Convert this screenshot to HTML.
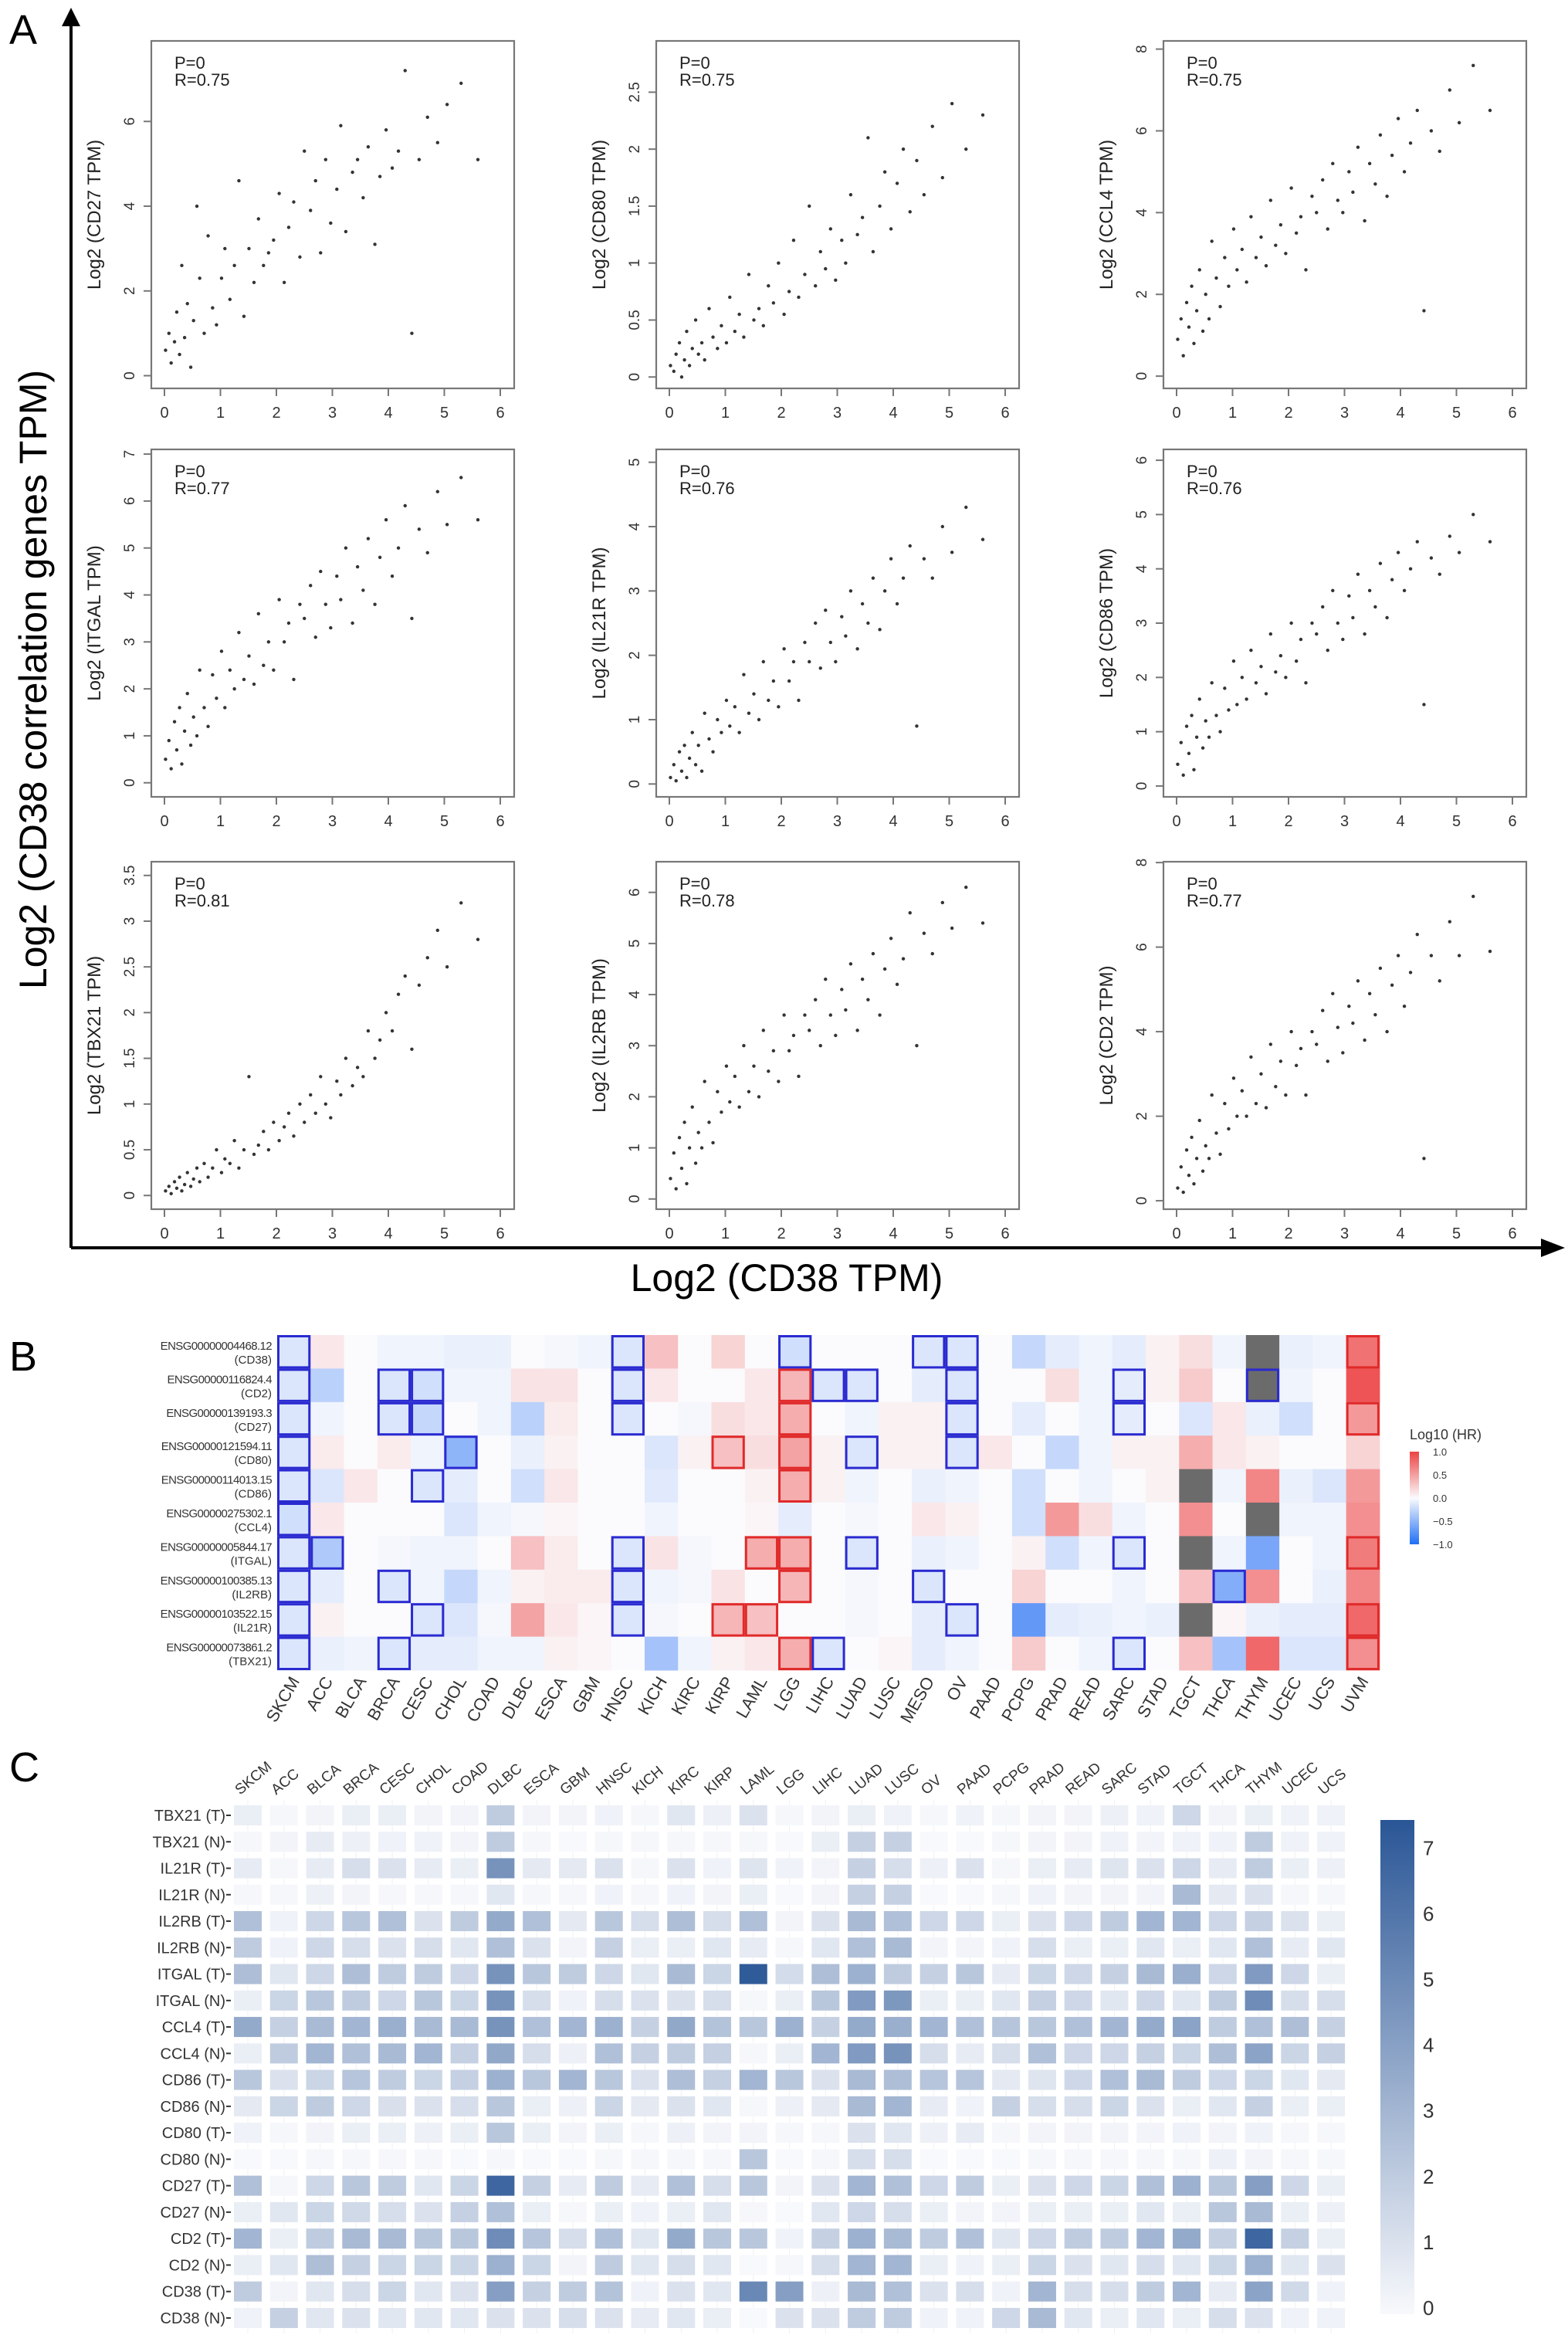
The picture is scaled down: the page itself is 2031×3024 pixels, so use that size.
<!DOCTYPE html>
<html><head><meta charset="utf-8"><style>
html,body{margin:0;padding:0;background:#fff;}
svg{display:block;font-family:"Liberation Sans",Arial,sans-serif;}
</style></head><body>
<svg id="fig" width="2031" height="3024" viewBox="0 0 2031 3024" xmlns="http://www.w3.org/2000/svg">
<rect width="2031" height="3024" fill="#fff"/>
<text x="12" y="57" font-size="54">A</text>
<text x="12" y="1775" font-size="54">B</text>
<text x="12" y="2307" font-size="54">C</text>
<g>
<line x1="92" y1="1616" x2="92" y2="30" stroke="#000" stroke-width="4"/>
<polygon points="80,34 104,34 92,10" fill="#000"/>
<line x1="92" y1="1616" x2="2000" y2="1616" stroke="#000" stroke-width="4"/>
<polygon points="1996,1604 1996,1628 2027,1616" fill="#000"/>
</g>
<text transform="translate(60,880) rotate(-90)" text-anchor="middle" font-size="50">Log2 (CD38 correlation genes TPM)</text>
<text x="1019" y="1672" text-anchor="middle" font-size="50">Log2 (CD38 TPM)</text>
<g id="panelA"></g>
<g id="panelB"></g>
<g id="panelC"></g>
</svg>
<script>
const NS="http://www.w3.org/2000/svg";
function mk(tag,attrs,parent,txt){const e=document.createElementNS(NS,tag);for(const k in attrs)e.setAttribute(k,attrs[k]);if(txt!==undefined)e.textContent=txt;parent.appendChild(e);return e;}

// ===== Panel A data =====
const cd38X=[0.02,0.08,0.12,0.18,0.22,0.27,0.31,0.36,0.41,0.47,0.52,0.58,0.63,0.71,0.78,0.86,0.93,1.02,1.08,1.17,1.25,1.33,1.42,1.51,1.6,1.68,1.77,1.86,1.95,2.05,2.14,2.22,2.31,2.42,2.5,2.61,2.7,2.79,2.88,2.97,3.08,3.15,3.24,3.36,3.45,3.55,3.64,3.76,3.85,3.96,4.07,4.18,4.3,4.42,4.55,4.7,4.88,5.05,5.3,5.6];
const yCD27=[0.6,1.0,0.3,0.8,1.5,0.5,2.6,0.9,1.7,0.2,1.3,4.0,2.3,1.0,3.3,1.6,1.2,2.3,3.0,1.8,2.6,4.6,1.4,3.0,2.2,3.7,2.6,2.9,3.2,4.3,2.2,3.5,4.1,2.8,5.3,3.9,4.6,2.9,5.1,3.6,4.4,5.9,3.4,4.8,5.1,4.2,5.4,3.1,4.7,5.8,4.9,5.3,7.2,1.0,5.1,6.1,5.5,6.4,6.9,5.1];
const yCD80=[0.1,0.05,0.2,0.3,0.0,0.15,0.4,0.1,0.25,0.5,0.2,0.3,0.15,0.6,0.35,0.25,0.45,0.3,0.7,0.4,0.55,0.35,0.9,0.5,0.6,0.45,0.8,0.65,1.0,0.55,0.75,1.2,0.7,0.9,1.5,0.8,1.1,0.95,1.3,0.85,1.2,1.0,1.6,1.25,1.4,2.1,1.1,1.5,1.8,1.3,1.7,2.0,1.45,1.9,1.6,2.2,1.75,2.4,2.0,2.3];
const yCCL4=[0.9,1.4,0.5,1.8,1.2,2.2,0.8,1.6,2.6,1.1,2.0,1.4,3.3,2.4,1.7,2.9,2.2,3.6,2.6,3.1,2.3,3.9,2.9,3.4,2.7,4.3,3.2,3.7,3.0,4.6,3.5,3.9,2.6,4.4,4.0,4.8,3.6,5.2,4.3,4.0,5.0,4.5,5.6,3.8,5.2,4.7,5.9,4.4,5.4,6.3,5.0,5.7,6.5,1.6,6.0,5.5,7.0,6.2,7.6,6.5];
const yITGAL=[0.5,0.9,0.3,1.3,0.7,1.6,0.4,1.1,1.9,0.8,1.4,1.0,2.4,1.6,1.2,2.3,1.8,2.8,1.6,2.4,2.0,3.2,2.2,2.7,2.1,3.6,2.5,3.0,2.4,3.9,3.0,3.4,2.2,3.8,3.5,4.2,3.1,4.5,3.8,3.3,4.4,3.9,5.0,3.4,4.6,4.1,5.2,3.8,4.8,5.6,4.4,5.0,5.9,3.5,5.4,4.9,6.2,5.5,6.5,5.6];
const yIL21R=[0.1,0.3,0.05,0.5,0.2,0.6,0.1,0.4,0.8,0.3,0.6,0.2,1.1,0.7,0.5,1.0,0.8,1.3,0.9,1.2,0.8,1.7,1.1,1.4,1.0,1.9,1.3,1.6,1.2,2.1,1.6,1.9,1.3,2.2,1.9,2.5,1.8,2.7,2.2,1.9,2.6,2.3,3.0,2.1,2.8,2.5,3.2,2.4,3.0,3.5,2.8,3.2,3.7,0.9,3.5,3.2,4.0,3.6,4.3,3.8];
const yCD86=[0.4,0.8,0.2,1.1,0.6,1.3,0.3,0.9,1.6,0.7,1.2,0.9,1.9,1.3,1.0,1.8,1.4,2.3,1.5,2.0,1.6,2.5,1.9,2.2,1.7,2.8,2.1,2.4,2.0,3.0,2.3,2.7,1.9,3.0,2.8,3.3,2.5,3.6,3.0,2.7,3.5,3.1,3.9,2.8,3.6,3.3,4.1,3.1,3.8,4.3,3.6,4.0,4.5,1.5,4.2,3.9,4.6,4.3,5.0,4.5];
const yTBX21=[0.05,0.1,0.02,0.15,0.08,0.2,0.05,0.12,0.25,0.1,0.18,0.3,0.15,0.35,0.2,0.3,0.5,0.25,0.4,0.35,0.6,0.3,0.5,1.3,0.45,0.55,0.7,0.5,0.8,0.6,0.75,0.9,0.65,1.0,0.8,1.1,0.9,1.3,1.0,0.85,1.25,1.1,1.5,1.2,1.4,1.3,1.8,1.5,1.7,2.0,1.8,2.2,2.4,1.6,2.3,2.6,2.9,2.5,3.2,2.8];
const yIL2RB=[0.4,0.9,0.2,1.2,0.6,1.5,0.3,1.0,1.8,0.7,1.3,1.0,2.3,1.5,1.1,2.1,1.7,2.6,1.9,2.4,1.8,3.0,2.1,2.6,2.0,3.3,2.5,2.9,2.3,3.6,2.9,3.2,2.4,3.6,3.3,3.9,3.0,4.3,3.6,3.2,4.1,3.7,4.6,3.3,4.3,3.9,4.8,3.6,4.5,5.1,4.2,4.7,5.6,3.0,5.2,4.8,5.8,5.3,6.1,5.4];
const yCD2=[0.3,0.8,0.2,1.2,0.6,1.5,0.4,1.0,1.9,0.7,1.3,1.0,2.5,1.6,1.1,2.3,1.7,2.9,2.0,2.6,2.0,3.4,2.3,3.0,2.2,3.7,2.7,3.3,2.5,4.0,3.2,3.6,2.5,4.0,3.7,4.5,3.3,4.9,4.1,3.5,4.6,4.2,5.2,3.8,4.9,4.4,5.5,4.0,5.1,5.8,4.6,5.4,6.3,1.0,5.8,5.2,6.6,5.8,7.2,5.9];
const genesA=["CD27","CD80","CCL4","ITGAL","IL21R","CD86","TBX21","IL2RB","CD2"];
const rValues=["0.75","0.75","0.75","0.77","0.76","0.76","0.81","0.78","0.77"];
const yMaxA=[7.9,2.95,8.2,7.1,5.2,6.2,3.65,6.6,8.02];
const yMinA=[-0.3,-0.1,-0.3,-0.3,-0.2,-0.2,-0.15,-0.2,-0.2];
const yTickA=[[0,2,4,6],[0,0.5,1,1.5,2,2.5],[0,2,4,6,8],[0,1,2,3,4,5,6,7],[0,1,2,3,4,5],[0,1,2,3,4,5,6],[0,0.5,1,1.5,2,2.5,3,3.5],[0,1,2,3,4,5,6],[0,2,4,6,8]];
const xTickA=[0,1,2,3,4,5,6];
const seriesA=[yCD27,yCD80,yCCL4,yITGAL,yIL21R,yCD86,yTBX21,yIL2RB,yCD2];

(function(){
 const g=document.getElementById('panelA');
 const lefts=[196,850,1507],tops=[53,582,1116],W=470,H=450;
 for(let i=0;i<9;i++){
  const L=lefts[i%3],T=tops[Math.floor(i/3)];
  const pg=mk('g',{},g);
  
  
  const xs=v=>L+17+(v-0)*(435/6);
  const ys=v=>T+H-(v-yMinA[i])/(yMaxA[i]-yMinA[i])*H;
  const box=mk('rect',{x:L,y:T,width:W,height:H,fill:'none',stroke:'#777','stroke-width':2.2},pg);
  
  xTickA.forEach(t=>{const x=xs(t);mk('line',{x1:x,y1:T+H,x2:x,y2:T+H+10,stroke:'#777','stroke-width':2},pg);
   const tl=mk('text',{x:x,y:T+H+38,'text-anchor':'middle','font-size':20,fill:'#333'},pg,String(t));
   });
  yTickA[i].forEach(t=>{const y=ys(t);mk('line',{x1:L,y1:y,x2:L-10,y2:y,stroke:'#777','stroke-width':2},pg);
   const tl=mk('text',{transform:`translate(${L-22},${y}) rotate(-90)`,'text-anchor':'middle','font-size':19,fill:'#333'},pg,String(t));
   });
  const yl=mk('text',{transform:`translate(${L-66},${T+H/2}) rotate(-90)`,'text-anchor':'middle','font-size':24,fill:'#222'},pg,`Log2 (${genesA[i]} TPM)`);
  
  const p=mk('text',{x:L+30,y:T+36,'font-size':22,fill:'#222'},pg,'P=0');
  
  const r=mk('text',{x:L+30,y:T+58,'font-size':22,fill:'#222'},pg,'R='+rValues[i]);
  
  const ys_=seriesA[i];
  for(let k=0;k<cd38X.length;k++){
   const c=mk('circle',{cx:xs(cd38X[k]),cy:ys(ys_[k]),r:2.2,fill:'#333'},pg);
   
  }
 }
})();

// ===== Panel B data =====
const cancersB=["SKCM","ACC","BLCA","BRCA","CESC","CHOL","COAD","DLBC","ESCA","GBM","HNSC","KICH","KIRC","KIRP","LAML","LGG","LIHC","LUAD","LUSC","MESO","OV","PAAD","PCPG","PRAD","READ","SARC","STAD","TGCT","THCA","THYM","UCEC","UCS","UVM"];
const ensgB=["ENSG00000004468.12","ENSG00000116824.4","ENSG00000139193.3","ENSG00000121594.11","ENSG00000114013.15","ENSG00000275302.1","ENSG00000005844.17","ENSG00000100385.13","ENSG00000103522.15","ENSG00000073861.2"];
const genesB=["CD38","CD2","CD27","CD80","CD86","CCL4","ITGAL","IL2RB","IL21R","TBX21"];
const N=null;
const hrCD38=[-0.15,0.1,0,-0.05,-0.05,-0.08,-0.08,0,-0.03,-0.05,-0.15,0.3,0,0.2,0,-0.2,0,0,0,-0.15,-0.15,0,-0.25,-0.1,-0.05,-0.1,0.05,0.15,-0.05,N,-0.08,-0.05,0.7];
const hrCD2=[-0.15,-0.3,0,-0.15,-0.2,-0.05,-0.05,0.12,0.12,0,-0.15,0.1,0,0,0.1,0.35,-0.15,-0.15,0,-0.1,-0.15,0,0,0.15,-0.05,-0.1,0.05,0.25,0,N,-0.05,0,0.85];
const hrCD27=[-0.15,-0.05,0,-0.15,-0.25,0,-0.05,-0.3,0.08,0,-0.15,0,-0.03,0.15,0.1,0.4,0,-0.05,0.05,0.05,-0.15,0,-0.1,0,-0.05,-0.1,0,-0.15,0.1,-0.08,-0.2,0,0.5];
const hrCD80=[-0.15,0.08,0,0.08,-0.05,-0.5,0,-0.08,0.05,0,0,-0.15,0.05,0.3,0.15,0.45,0.05,-0.15,0.05,0.05,-0.15,0.1,0,-0.25,-0.05,0.05,0.05,0.4,0.1,0.05,0,0,0.2];
const hrCD86=[-0.15,-0.15,0.1,0,-0.15,-0.1,0,-0.2,0.1,0,0,-0.12,0,0,0.05,0.4,0.05,-0.05,0,-0.08,-0.05,0,-0.2,0,-0.05,0,0.05,N,-0.05,0.6,-0.08,-0.15,0.5];
const hrCCL4=[-0.2,0.1,0,0,0,-0.15,-0.05,-0.03,0.03,0,0,-0.05,0,0,0.03,-0.1,0,-0.03,0,0.1,0.05,0,-0.2,0.5,0.15,-0.05,0,0.55,0,N,-0.05,-0.05,0.55];
const hrITGAL=[-0.15,-0.35,0,-0.03,-0.05,-0.05,0,0.3,0.08,0,-0.15,0.12,-0.03,0,0.4,0.4,0,-0.15,0,-0.08,-0.05,0,0.05,-0.2,-0.05,-0.15,0,N,-0.05,-0.6,0,-0.05,0.65];
const hrIL2RB=[-0.15,-0.1,0,-0.15,-0.05,-0.25,-0.05,0.05,0.08,0.08,-0.15,-0.05,-0.03,0.12,0,0.35,0,-0.03,0,-0.15,0,0,0.2,0,0,-0.05,0,0.3,-0.55,0.55,0,-0.08,0.6];
const hrIL21R=[-0.15,0.05,0,0,-0.15,-0.15,-0.03,0.45,0.1,0.03,-0.15,-0.03,0,0.35,0.3,0,0,-0.03,0,-0.1,-0.15,0,-0.7,-0.1,-0.08,-0.05,-0.08,N,0.03,-0.08,-0.1,-0.1,0.75];
const hrTBX21=[-0.15,-0.08,-0.05,-0.15,-0.1,-0.1,-0.05,-0.05,0.05,0.03,0,-0.4,-0.05,0.05,0.1,0.4,-0.15,0,0.03,-0.1,-0.05,0,0.25,0,-0.05,-0.15,0,0.3,-0.4,0.75,-0.15,-0.15,0.55];
// significance outlines: b = protective (blue), r = risk (red)
const sigCD38 ="b.........b....b...bb...........r";
const sigCD2  ="b..bb.....b....rbb..b....b...b...r";
const sigCD27 ="b..bb.....b....r....b....b......r";
const sigCD80 ="b....b.......r.r.b..b............";
const sigCD86 ="b...b..........r.................r";
const sigCCL4 ="b................................r";
const sigITGAL="bb........b...rr.b.......b......r";
const sigIL2RB="b..b......b....r...b........b....r";
const sigIL21R="b...b.....b..rr.....b...........r";
const sigTBX21="b..b...........rb........b......r";
const hrRows=[hrCD38,hrCD2,hrCD27,hrCD80,hrCD86,hrCCL4,hrITGAL,hrIL2RB,hrIL21R,hrTBX21];
const sigRows=[sigCD38,sigCD2,sigCD27,sigCD80,sigCD86,sigCCL4,sigITGAL,sigIL2RB,sigIL21R,sigTBX21];
const legendTicksB=["1.0","0.5","0.0","−0.5","−1.0"];

function colB(v){
 if(v===null)return '#6b6b6b';
 const t=Math.min(1,Math.abs(v));
 const w=[251,251,253];const c=v>=0?[236,55,55]:[35,110,245];
 return `rgb(${w.map((a,i)=>Math.round(a+(c[i]-a)*t)).join(',')})`;
}
(function(){
 const g=document.getElementById('panelB');
 const X0=359,Y0=1729,CW=43.27,CH=43.4;
 const cx=j=>X0+j*CW, cy=i=>Y0+i*CH;
 hrRows.forEach((row,i)=>{row.forEach((v,j)=>{
  const r=mk('rect',{x:cx(j),y:cy(i),width:CW+0.5,height:CH+0.5,fill:colB(v)},g);
  
 });});
 sigRows.forEach((s,i)=>{for(let j=0;j<cancersB.length;j++){const ch=s[j];if(ch==='b'||ch==='r'){
  const r=mk('rect',{x:cx(j)+1.5,y:cy(i)+1.5,width:CW-3,height:CH-3,fill:'none',stroke:ch==='b'?'#2a2ad0':'#e02a2a','stroke-width':3},g);
  
 }}});
 genesB.forEach((gn,i)=>{
  const t1=mk('text',{x:352,y:cy(i)+19,'text-anchor':'end','font-size':15,fill:'#333','letter-spacing':'-0.6'},g,ensgB[i]);
  
  const t2=mk('text',{x:352,y:cy(i)+37,'text-anchor':'end','font-size':15,fill:'#333'},g,'('+gn+')');
  
 });
 cancersB.forEach((c,j)=>{
  const t=mk('text',{transform:`translate(${cx(j)+CW/2+8},${Y0+10*CH+14}) rotate(-60)`,'text-anchor':'end','font-size':22,fill:'#333'},g,c);
  
 });
 const defs=mk('defs',{},g);
 const lg=mk('linearGradient',{id:'gB',x1:0,y1:0,x2:0,y2:1},defs);
 mk('stop',{offset:'0','stop-color':'#ec4444'},lg);mk('stop',{offset:'0.5','stop-color':'#fbfbfd'},lg);mk('stop',{offset:'1','stop-color':'#1f6ff5'},lg);
 const lt=mk('text',{x:1826,y:1864,'font-size':18,fill:'#333'},g,'Log10 (HR)');
 
 const cb=mk('rect',{x:1826,y:1880,width:12,height:120,fill:'url(#gB)'},g);
 
 legendTicksB.forEach((s,k)=>{const t=mk('text',{x:1856,y:1885+k*30,'font-size':13,fill:'#333'},g,s);
  });
})();

// ===== Panel C data =====
const cancersC=["SKCM","ACC","BLCA","BRCA","CESC","CHOL","COAD","DLBC","ESCA","GBM","HNSC","KICH","KIRC","KIRP","LAML","LGG","LIHC","LUAD","LUSC","OV","PAAD","PCPG","PRAD","READ","SARC","STAD","TGCT","THCA","THYM","UCEC","UCS"];
const rowsC=["TBX21 (T)","TBX21 (N)","IL21R (T)","IL21R (N)","IL2RB (T)","IL2RB (N)","ITGAL (T)","ITGAL (N)","CCL4 (T)","CCL4 (N)","CD86 (T)","CD86 (N)","CD80 (T)","CD80 (N)","CD27 (T)","CD27 (N)","CD2 (T)","CD2 (N)","CD38 (T)","CD38 (N)"];
const exTBX21T=[.5,.1,.2,.5,.5,.2,.2,2,.2,.2,.3,.1,.8,.4,1,.1,.2,.5,.3,.1,.3,.1,.2,.2,.4,.3,1.5,.2,.5,.3,.3];
const exTBX21N=[.1,.2,.6,.4,.3,.3,.2,2,.1,0,.1,.1,.1,.1,.1,0,.5,1.8,1.8,0,0,.1,.2,.2,.3,.2,.3,.3,2,.3,.3];
const exIL21RT=[.6,.1,.6,1.2,1,.6,.5,4.5,.7,.7,1,.1,1,.3,.9,.3,.2,1.8,1.2,.4,1,.1,.5,.6,.9,1,1.5,.6,2,.5,.4];
const exIL21RN=[.1,.1,.4,.2,.1,.1,.1,.8,.1,.1,.3,.1,.3,.2,.5,0,.2,1.8,1.8,0,0,.1,.3,.2,.2,.2,2.8,.7,1,.1,.1];
const exIL2RBT=[2.5,.3,1.5,2.2,2.5,1,2,3.5,2.5,.7,2.2,1.2,2.6,1.2,2.5,.2,1,2.8,2.5,1.5,1.5,.5,1,1.5,2,3,3,1.5,1.8,1,.5];
const exIL2RBN=[2,.3,1.5,1.2,1,1.2,.8,2.5,1,.2,1.8,.5,.5,.8,.6,.1,.8,2.5,2.8,.2,.2,.3,1.2,.5,.5,.8,.5,.8,2.5,.6,.8];
const exITGALT=[2.6,.8,1.5,2.6,2,2,1.5,4.5,2.2,2,1.5,.8,2.8,1.6,7,1.3,2.6,3.2,2,1.8,2.2,.6,1.6,1.5,1.8,2.8,3.3,1.5,4.2,1.5,.5];
const exITGALN=[.5,1.6,2.2,2,1.5,2.2,1.6,4.5,1.2,.3,1.2,1,1,1.2,.1,.5,2.2,4.2,4.3,.5,.5,.8,1.8,1.5,.8,1.5,.8,2,4.8,1.2,1.2];
const exCCL4T=[3.5,1.8,2.8,3,3.3,2.8,2.8,4.5,2.5,3,3.2,1.8,3.6,2.4,2.2,3.2,1.8,3.5,3.3,3,2.5,2.3,2.2,2.5,3,3.5,3.8,2,2.5,2.6,1.8];
const exCCL4N=[.5,2,3,2.5,2.8,3,1.8,3.6,1.2,.4,2.5,1.8,2,1.8,.1,.5,3,4.2,4.5,1.2,.6,1.2,2.5,1.5,1.5,1.8,1.6,2.6,3.8,1.6,1.8];
const exCD86T=[2.2,1,1.6,2.3,2,1.6,1.8,3.2,2.2,3,2.2,1,2.6,1.8,3,2.2,1,2.8,2.6,2.3,2.3,.7,.9,1.5,2.5,2.8,2,1.5,1.6,.8,.7];
const exCD86N=[.7,1.6,2,1.5,1.1,1,1.2,2.2,.5,.4,1.6,.7,1,.8,.1,.4,.7,2.8,3,.6,.3,1.8,1.2,1.2,1.6,1,.5,.8,1.8,.5,.5];
const exCD80T=[.3,.1,.2,.5,.5,.4,.5,2.2,.5,.2,.5,.1,.4,.2,.2,.1,.1,1,.8,.4,.6,.1,.2,.2,.2,.2,.3,.2,.3,.1,.1];
const exCD80N=[0,0,.1,.1,.1,.1,0,.1,0,0,.1,.1,.1,.1,2.2,0,.1,1.2,1.2,0,0,0,.1,.1,.1,.1,.1,.4,.2,.1,.1];
const exCD27T=[2.5,.1,1.5,2.2,2,.8,1.6,6.5,1.8,.6,2,.6,2.5,1.2,2.2,.2,1,3,2.5,1.5,2,.5,1,1.5,1.6,2.5,3.2,2.2,4,1.5,.5];
const exCD27N=[.5,.8,1.6,1.4,1.2,1,1.8,2.5,.5,.1,.5,.3,.5,.8,.1,0,.8,1.5,1.2,.5,.2,.2,.5,.5,.5,.8,.5,2.2,2.8,.5,.4];
const exCD2T=[3,.5,2,2.8,2.8,2.2,2.2,4.8,2.3,1.2,2.5,.8,3.5,2.2,2.2,.3,1.8,3.2,2.8,2,2.5,.8,1.5,2,2,3,3.5,1.8,6.5,1.8,.5];
const exCD2N=[.5,.8,2.6,1.8,1.6,1.6,1.6,3.2,1.6,.2,2,.8,1.2,.8,0,.1,1.2,3,3,.5,.3,.5,1.6,1,.8,1.2,.8,1.6,3.2,.8,1];
const exCD38T=[2,.2,.8,1.2,1.6,.8,1,4,1.8,2,2.4,.3,1,.8,5,4,.4,2.8,2.5,1,1.2,.3,3,1.2,1.2,2,3,.6,3.8,1.4,.3];
const exCD38N=[.3,1.8,.8,1,.8,.8,.8,1,1,1.2,1,.6,.8,.5,0,1,1,2,2,.3,.3,1.5,2.8,.8,.5,.8,.5,1.2,1,.3,.3];
const exprRows=[exTBX21T,exTBX21N,exIL21RT,exIL21RN,exIL2RBT,exIL2RBN,exITGALT,exITGALN,exCCL4T,exCCL4N,exCD86T,exCD86N,exCD80T,exCD80N,exCD27T,exCD27N,exCD2T,exCD2N,exCD38T,exCD38N];
const legendTicksC=[0,1,2,3,4,5,6,7];

function colC(v){
 const t=Math.max(0,Math.min(1,v/7.2));
 const w=[248,249,252],c=[42,86,150];
 return `rgb(${w.map((a,i)=>Math.round(a+(c[i]-a)*t)).join(',')})`;
}
(function(){
 const g=document.getElementById('panelC');
 const X0=321,DX=46.77,Y0=2351,DY=34.26,CW=36,CH=26;
 const cx=j=>X0+j*DX, cy=i=>Y0+i*DY;
 cancersC.forEach((c,j)=>{mk('line',{x1:cx(j),y1:Y0-20,x2:cx(j),y2:cy(19)+20,stroke:'#f1f1f3','stroke-width':1},g);});
 exprRows.forEach((row,i)=>{
  row.forEach((v,j)=>{
   const r=mk('rect',{x:cx(j)-CW/2,y:cy(i)-CH/2,width:CW,height:CH,fill:colC(v)},g);
   
  });
  const t=mk('text',{x:292,y:cy(i)+7,'text-anchor':'end','font-size':20,fill:'#333'},g,rowsC[i]);
  
  mk('line',{x1:293,y1:cy(i),x2:299,y2:cy(i),stroke:'#333','stroke-width':2},g);
 });
 cancersC.forEach((c,j)=>{
  const t=mk('text',{transform:`translate(${cx(j)-10},${2325}) rotate(-40)`,'font-size':19,fill:'#333'},g,c);
  
 });
 const defs=mk('defs',{},g);
 const lg=mk('linearGradient',{id:'gC',x1:0,y1:0,x2:0,y2:1},defs);
 mk('stop',{offset:'0','stop-color':colC(7.2)},lg);mk('stop',{offset:'1','stop-color':colC(0)},lg);
 const cb=mk('rect',{x:1788,y:2357,width:44,height:640,fill:'url(#gC)'},g);
 
 const ly=v=>2988-v*85.1;
 legendTicksC.forEach(v=>{const t=mk('text',{x:1843,y:ly(v)+10,'font-size':26,fill:'#333'},g,String(v));
  });
})();
</script>
</body></html>
